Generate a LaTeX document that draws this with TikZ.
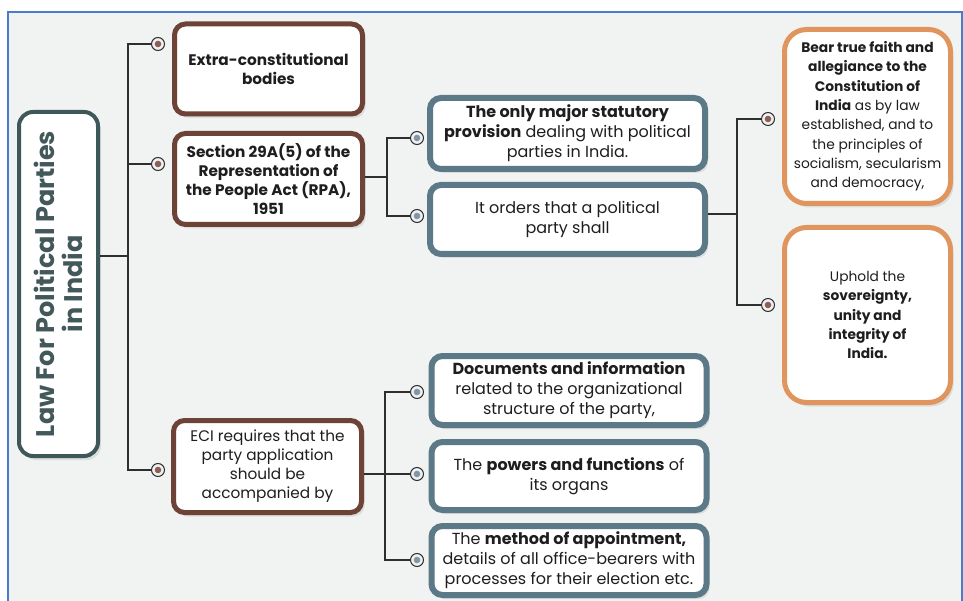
\documentclass[tikz,border=0pt]{standalone}
\usepackage{fontspec}
\setmainfont{Poppins}
\usetikzlibrary{positioning,shadows}

\definecolor{rootline}{HTML}{3E5859}
\definecolor{roottext}{HTML}{43585A}
\definecolor{brownline}{HTML}{6D4237}
\definecolor{blueline}{HTML}{5C7987}
\definecolor{orangeline}{HTML}{E0955E}
\definecolor{frameblue}{HTML}{4A7CC9}
\definecolor{paper}{HTML}{F1F2F2}
\definecolor{wire}{HTML}{2E2E2E}
\definecolor{brownpip}{HTML}{8C5E58}
\definecolor{bluepip}{HTML}{7E97A6}
\definecolor{ink}{HTML}{1E1E1E}

\begin{document}
\begin{tikzpicture}[x=1pt,y=-1pt,
box/.style = {rectangle, fill=white, align=center, inner sep=1pt, text=ink,
              drop shadow={opacity=0.18, shadow xshift=3pt, shadow yshift=-4pt}},
title/.style = {box, draw=rootline, line width=4pt, rounded corners=14pt, rotate=90,
                minimum width=344pt, minimum height=79pt, text=roottext,
                font=\fontsize{25.5}{27.5}\selectfont\bfseries},
topic/.style = {box, draw=brownline, line width=5pt, rounded corners=11pt,
                minimum width=188pt, font=\fontsize{15.3}{19}\selectfont},
detail/.style = {box, draw=blueline, line width=6pt, rounded corners=11pt,
                 minimum width=275pt, font=\fontsize{16}{20}\selectfont},
duty/.style = {box, draw=orangeline, line width=5pt, rounded corners=22pt,
               minimum width=166pt, minimum height=174pt,
               font=\fontsize{13.8}{19.3}\selectfont},
joint/.style = {circle, draw=wire, line width=1pt, fill=white!88!gray, minimum size=13pt,
                inner sep=0pt,
                path picture={\fill[#1] (path picture bounding box.center) circle (3.3pt);}},
line/.style = {draw=wire, line width=1.2pt}]

\useasboundingbox (0,0) rectangle (963,601);
% sheet and frame
\fill[white] (0,0) rectangle (963,601);
\fill[paper] (8,12) rectangle (963,601);
\draw[frameblue, line width=2pt] (8,612) -- (8,12) -- (962,12) -- (962,612);

% root
\node[title] (root) at (58.5,284) {Law For Political Parties\\in India};

% level 1
\node[topic, minimum height=90pt] (extra) at (268.5,69)
  {\textbf{Extra-constitutional}\\\textbf{bodies}};
\node[topic, minimum height=91pt] (section) at (268.5,179)
  {\textbf{Section 29A(5) of the}\\\textbf{Representation of}\\\textbf{the People Act (RPA),}\\\textbf{1951}};
\node[topic, minimum height=92pt] (eci) at (267.5,466.5)
  {ECI requires that the\\party application\\should be\\accompanied by};

% level 2
\node[detail, minimum height=71pt] (major) at (567.5,133.5)
  {\textbf{The only major statutory}\\\textbf{provision} dealing with political\\parties in India.};
\node[detail, minimum height=69pt] (orders) at (567.5,219.5)
  {It orders that a political\\party shall};
\node[detail, minimum height=69pt] (docs) at (569,390.5)
  {\textbf{Documents and information}\\related to the organizational\\structure of the party,};
\node[detail, minimum height=68pt] (powers) at (569,476)
  {The \textbf{powers and functions} of\\its organs};
\node[detail, minimum height=69pt] (method) at (569,560.5)
  {The \textbf{method of appointment,}\\details of all office-bearers with\\processes for their election etc.};

% level 3
\node[duty] (faith) at (867.5,116.5)
  {\textbf{Bear true faith and}\\\textbf{allegiance to the}\\\textbf{Constitution of}\\\textbf{India} as by law\\established, and to\\the principles of\\socialism, secularism\\and democracy,};
\node[duty, minimum height=175pt] (uphold) at (867.5,315)
  {Uphold the\\\textbf{sovereignty,}\\\textbf{unity and}\\\textbf{integrity of}\\\textbf{India.}};

% joints
\node[joint=brownpip] (jExtra) at (158,44) {};
\node[joint=brownpip] (jSection) at (158,164) {};
\node[joint=brownpip] (jEci) at (158,470) {};
\node[joint=bluepip] (jMajor) at (417,138) {};
\node[joint=bluepip] (jOrders) at (417,216) {};
\node[joint=brownpip] (jFaith) at (768,119) {};
\node[joint=brownpip] (jUphold) at (768,305) {};
\node[joint=bluepip] (jDocs) at (417,392) {};
\node[joint=bluepip] (jPowers) at (417,474) {};
\node[joint=bluepip] (jMethod) at (417,560) {};

\coordinate (hubA) at (128,256);
\coordinate (hubB) at (387,177);
\coordinate (hubC) at (737,214);
\coordinate (hubD) at (385,474);

\begin{scope}[every path/.style=line]
\path (root.south |- hubA) -- (hubA);
\path (jExtra) -| (hubA) |- (jEci);
\path (hubA |- jSection) -- (jSection);

\path (section.east |- hubB) -- (hubB);
\path (jMajor) -| (hubB) |- (jOrders);

\path (orders.east |- hubC) -- (hubC);
\path (jFaith) -| (hubC) |- (jUphold);

\path (eci.east |- hubD) -- (hubD);
\path (jDocs) -| (hubD) |- (jMethod);
\path (hubD |- jPowers) -- (jPowers);
\end{scope}
\end{tikzpicture}
\end{document}
